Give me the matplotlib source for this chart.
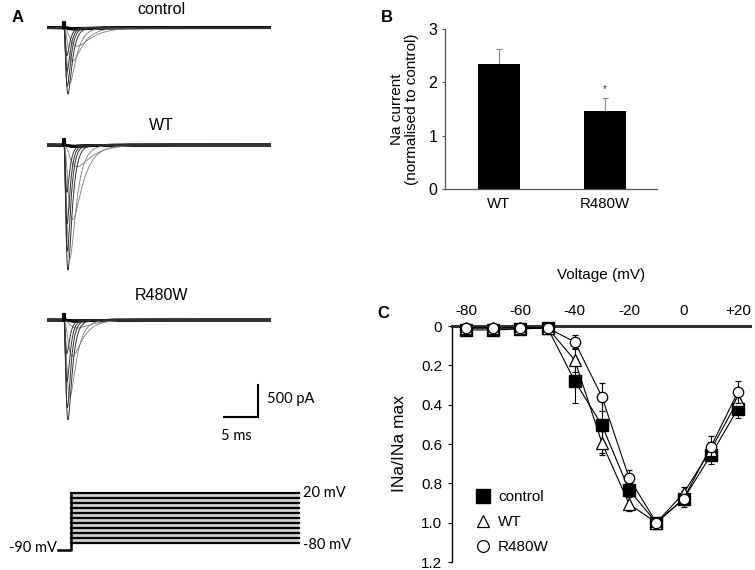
import numpy as np
import matplotlib
matplotlib.use("Agg")
import matplotlib.pyplot as plt
from matplotlib.lines import Line2D

plt.rcParams['font.family'] = ['Liberation Sans', 'DejaVu Sans']

# ---------------- data ----------------
voltages = [-80, -70, -60, -50, -40, -30, -20, -10, 0, 10, 20]
iv_control = [0.02, 0.02, 0.015, 0.01, 0.28, 0.505, 0.835, 1.0, 0.88, 0.657, 0.42]
iv_control_err = [0.01, 0.01, 0.01, 0.01, 0.11, 0.14, 0.08, 0.0, 0.04, 0.045, 0.05]
iv_wt = [0.01, 0.01, 0.01, 0.01, 0.174, 0.595, 0.906, 1.0, 0.85, 0.63, 0.378]
iv_wt_err = [0.01, 0.01, 0.01, 0.01, 0.06, 0.062, 0.035, 0.0, 0.03, 0.04, 0.04]
iv_r480w = [0.01, 0.01, 0.01, 0.01, 0.081, 0.361, 0.774, 1.0, 0.878, 0.615, 0.335]
iv_r480w_err = [0.01, 0.01, 0.01, 0.01, 0.034, 0.07, 0.04, 0.0, 0.02, 0.055, 0.055]

bar_groups = ['WT', 'R480W']
bar_values = [2.35, 1.47]
bar_errors = [0.27, 0.23]
bar_sig = ['', '*']

# peak current of each family (pA)
trace_groups = ['control', 'WT', 'R480W']
trace_imax = [1036, 1953, 1560]
# activation / inactivation time constants (ms) per test voltage
tau_m = [0.5, 0.5, 0.5, 0.5, 0.9, 0.6, 0.42, 0.3, 0.26, 0.24, 0.22]
tau_h = [3.0, 3.0, 3.0, 3.0, 2.2, 1.5, 0.95, 0.6, 0.5, 0.45, 0.42]

holding_mV = -90
protocol_steps = voltages

# ---------------- layout helpers ----------------
W, H = 755, 570
fig = plt.figure(figsize=(W / 100, H / 100), dpi=100)


def px_axes(l, t, r, b):
    ax = fig.add_axes([l / W, 1 - b / H, (r - l) / W, (b - t) / H])
    ax.patch.set_visible(False)
    return ax


PX_PER_MS = 6.8
PX_PER_PA = 0.064
T0_PX = 47

# ---------------- Panel A: current traces ----------------
baselines_px = [27.7, 145, 320]
title_px = [10, 125, 295]
t_step = 2.5
t = np.linspace(0, 33, 4000)
iv_sets = [iv_control, iv_wt, iv_r480w]
trace_axes = []
for g, name in enumerate(trace_groups):
    yb = baselines_px[g]
    ax = px_axes(T0_PX, yb - 150 * PX_PER_PA, T0_PX + 33 * PX_PER_MS, yb + 2200 * PX_PER_PA)
    ax.set_xlim(0, 33)
    ax.set_ylim(-2200, 150)
    ax.axis('off')
    trace_axes.append(ax)
    for k, v in enumerate(voltages):
        tt = np.clip(t - t_step, 0, None)
        shape = (1 - np.exp(-tt / tau_m[k])) ** 3 * np.exp(-tt / tau_h[k])
        shape = shape / shape.max()
        cur = -trace_imax[g] * iv_sets[g][k] * shape
        if v <= -50:
            col, lw = 'black', 1.9
        elif v <= -20:
            col, lw = '#7a7a7a', 0.6
        else:
            col, lw = '#303030', 0.7
        ax.plot(t, cur, color=col, lw=lw, zorder=3 if v > -20 else 2)
    # capacitive artefact
    ax.plot([t_step - 0.15, t_step - 0.15, t_step + 0.15, t_step + 0.15],
            [0, 90, 90, 0], color='black', lw=1.6, zorder=4)
    fig.text(161 / W, 1 - title_px[g] / H, name, ha='center', va='center', fontsize=11.5)

# scale bar (in R480W axes units)
afont = dict(fontsize=10.5, family=['Lato', 'DejaVu Sans'])
axs = trace_axes[2]
sb_t, sb_y = 31.0, -1516
axs.plot([sb_t - 5, sb_t, sb_t], [sb_y, sb_y, sb_y + 500], color='black', lw=1.5,
         clip_on=False, solid_joinstyle='miter')
axs.text(sb_t + 1.4, sb_y + 280, '500 pA', ha='left', va='center', **afont)
axs.text(sb_t - 5.4, sb_y - 290, '5 ms', ha='left', va='center', **afont)

# voltage protocol
PX_PER_MV = 0.5
axp = px_axes(T0_PX, 493 - 10 * PX_PER_MV, T0_PX + 38 * PX_PER_MS, 543 + 20 * PX_PER_MV)
axp.set_xlim(0, 38)
axp.set_ylim(-100, 30)
axp.axis('off')
tp_start, tp_step, tp_end = 1.6, 3.5, 37.1
axp.fill_between([tp_step, tp_end], min(protocol_steps), max(protocol_steps),
                 color='#cfcfcf', lw=0)
axp.plot([tp_start, tp_step, tp_step], [holding_mV - 3, holding_mV - 3, max(protocol_steps)],
         color='black', lw=1.8)
for v in protocol_steps:
    axp.plot([tp_step, tp_end], [v, v], color='black', lw=1.6)
axp.text(tp_start - 0.1, holding_mV - 1, f'{holding_mV} mV', ha='right', va='center', **afont)
axp.text(tp_end + 0.5, max(protocol_steps), f'{max(protocol_steps)} mV', ha='left', va='center', **afont)
axp.text(tp_end + 0.5, min(protocol_steps) - 4, f'{min(protocol_steps)} mV', ha='left', va='center', **afont)

# ---------------- Panel B: bars ----------------
axB = px_axes(445, 29, 657, 189)
xb = np.arange(len(bar_groups))
axB.bar(xb, bar_values, width=0.4, color='black', zorder=2)
axB.errorbar(xb, bar_values, yerr=[[0] * len(bar_errors), bar_errors], fmt='none',
             ecolor='#888888', elinewidth=0.8, capsize=2, capthick=0.8, zorder=1)
for i, s in enumerate(bar_sig):
    if s:
        axB.text(xb[i], bar_values[i] + bar_errors[i] + 0.17, s, ha='center', va='center',
                 fontsize=7, color='#333333')
axB.set_xlim(-0.51, 1.49)
axB.set_ylim(0, 3)
axB.set_yticks([0, 1, 2, 3])
axB.set_xticks(xb)
axB.set_xticklabels(bar_groups)
for sp in ['top', 'right']:
    axB.spines[sp].set_visible(False)
for sp in ['left', 'bottom']:
    axB.spines[sp].set_color('#555555')
    axB.spines[sp].set_linewidth(0.9)
axB.tick_params(axis='y', length=2.5, color='#555555', labelsize=11.5, pad=3)
axB.tick_params(axis='x', length=0, labelsize=10.8, pad=6)
axB.set_ylabel('Na current\n(normalised to control)', fontsize=11, labelpad=7, linespacing=1.05)

# ---------------- Panel C: I-V ----------------
axC = px_axes(452, 326, 750, 562)
xl = -80 - (466 - 452) / 2.72
xr = -80 + (750 - 466) / 2.72
axC.set_xlim(xl, xr)
axC.set_ylim(1.2, 0)
series = [
    (iv_control, iv_control_err, dict(marker='s', ms=8.5, mfc='black', mec='black')),
    (iv_wt, iv_wt_err, dict(marker='^', ms=8, mfc='white', mec='black', mew=0.9)),
    (iv_r480w, iv_r480w_err, dict(marker='o', ms=7.5, mfc='white', mec='black', mew=0.9)),
]
for z, (vals, errs, st) in enumerate(series):
    axC.errorbar(voltages, vals, yerr=errs, color='black', lw=0.8, elinewidth=0.8,
                 capsize=2.5, capthick=0.8, clip_on=False, zorder=3 + z, **st)
for sp in ['right', 'bottom']:
    axC.spines[sp].set_visible(False)
axC.spines['top'].set_linewidth(2.2)
axC.spines['top'].set_color('#333333')
axC.spines['left'].set_linewidth(1.0)
axC.xaxis.set_ticks_position('top')
axC.xaxis.set_label_position('top')
axC.set_xticks([-80, -60, -40, -20, 0, 20])
axC.set_xticklabels(['-80', '-60', '-40', '-20', '0', '+20'])
axC.tick_params(axis='x', length=0, labelsize=11, pad=6)
axC.set_yticks([0, 0.2, 0.4, 0.6, 0.8, 1.0, 1.2])
axC.set_yticklabels(['0', '0.2', '0.4', '0.6', '0.8', '1.0', '1.2'])
axC.tick_params(axis='y', length=3, labelsize=11, pad=4)
axC.set_xlabel('Voltage (mV)', fontsize=11, labelpad=18)
axC.set_ylabel('INa/INa max', fontsize=12.5, labelpad=10)

handles = [Line2D([], [], ls='none', **dict(series[i][2], ms=series[i][2]['ms'] + 1))
           for i in range(3)]
fig.legend(handles, trace_groups, loc='upper left', bbox_to_anchor=(475 / W, 1 - 490 / H),
           bbox_transform=fig.transFigure, frameon=False, fontsize=11, handlelength=1.0,
           handletextpad=0.5, borderpad=0, borderaxespad=0, labelspacing=0.72)

# ---------------- panel letters ----------------
for lab, (x, y) in zip(['A', 'B', 'C'], [(18, 18), (387, 17), (383, 314)]):
    fig.text(x / W, 1 - y / H, lab, fontsize=12, fontweight='bold', ha='center', va='center')

fig.savefig('out.png', dpi=100)
